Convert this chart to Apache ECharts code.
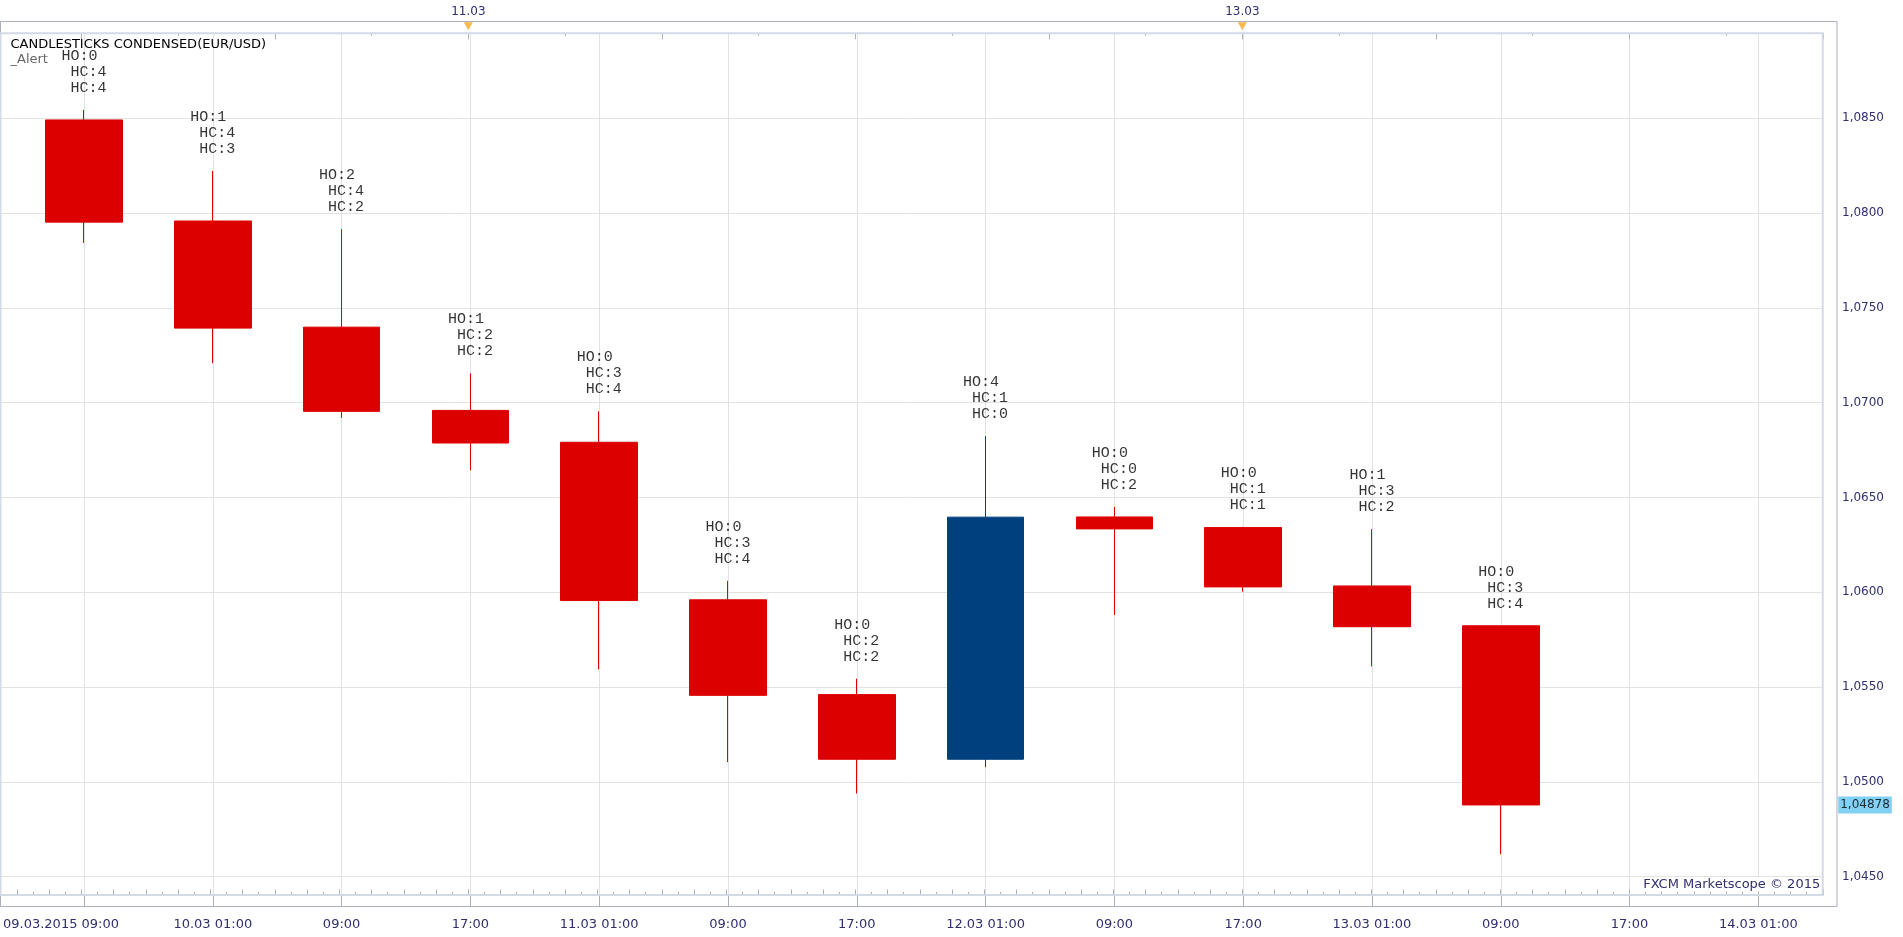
<!DOCTYPE html>
<html><head><meta charset="utf-8">
<script src="https://cdn.jsdelivr.net/npm/echarts@6/dist/echarts.min.js"></script>
<style>html,body{margin:0;padding:0;background:#fff;overflow:hidden}#c{width:1903px;height:937px}</style>
</head><body><div id="c"></div>
<script>
// ---- data ----
const categories = ['09.03.2015 09:00','10.03 01:00','09:00','17:00','11.03 01:00','09:00','17:00','12.03 01:00','09:00','17:00','13.03 01:00','09:00','17:00','14.03 01:00'];
const opens  = [1.08491, 1.07958, 1.07398, 1.06959, 1.06791, 1.05960, 1.05460, 1.05119, 1.06397, 1.06341, 1.06033, 1.05823];
const closes = [1.07952, 1.07393, 1.06954, 1.06787, 1.05956, 1.05456, 1.05119, 1.06396, 1.06334, 1.06028, 1.05818, 1.04878];
const lows   = [1.07842, 1.07208, 1.06919, 1.06643, 1.05593, 1.05104, 1.04938, 1.05077, 1.05880, 1.06003, 1.05609, 1.04618];
const highs  = [1.08544, 1.08222, 1.07915, 1.07155, 1.06954, 1.06060, 1.05544, 1.06823, 1.06450, 1.06345, 1.06333, 1.05823];
const annotations = [
  ['HO:0','HC:4','HC:4'], ['HO:1','HC:4','HC:3'], ['HO:2','HC:4','HC:2'], ['HO:1','HC:2','HC:2'],
  ['HO:0','HC:3','HC:4'], ['HO:0','HC:3','HC:4'], ['HO:0','HC:2','HC:2'], ['HO:4','HC:1','HC:0'],
  ['HO:0','HC:0','HC:2'], ['HO:0','HC:1','HC:1'], ['HO:1','HC:3','HC:2'], ['HO:0','HC:3','HC:4']
];
const topLabelHours = [24, 72];
const topLabels = ['11.03', '13.03'];
const yMin = 1.04403, yMax = 1.08948;

// ---- layout / style ----
const FONT = 'DejaVu Sans, Verdana, sans-serif';
const NAVY = '#2f2f70';
const TICK = '#a9b0bb';
const GRIDC = '#e2e2e2';
const RED = '#dd0000', BLUE = '#00407f';
const W = 1903;
const X0 = 81.35, STEP = 129, HOUR = STEP / 8;
const TOP = 33.3, BOTTOM = 42;
const PLOT_RIGHT = 1822.7;

const fmtPrice = (v, d) => v.toFixed(d).replace('.', ',');
const lastClose = closes[closes.length - 1];

const chart = echarts.init(document.getElementById('c'), null, {renderer: 'canvas'});
chart.setOption({
  animation: false,
  backgroundColor: '#fff',
  title: [
    {text: 'CANDLESTICKS CONDENSED(EUR/USD)', subtext: '_Alert', left: 10.5, top: 38, padding: 0, itemGap: 2,
     textStyle: {fontFamily: FONT, fontSize: 13, fontWeight: 'normal', color: '#000'},
     subtextStyle: {fontFamily: FONT, fontSize: 13, color: '#666'}},
    {text: 'FXCM Marketscope © 2015', right: W - PLOT_RIGHT + 1.5, top: 877.5, padding: [1, 1, 0, 5],
     backgroundColor: '#fff', z: 10,
     textStyle: {fontFamily: FONT, fontSize: 13, fontWeight: 'normal', color: NAVY}}
  ],
  grid: [
    {left: X0, right: W - (X0 + STEP * 13), top: TOP, bottom: BOTTOM},
    {left: 0, right: W - PLOT_RIGHT, top: TOP, bottom: BOTTOM},
    {left: X0 - 4 * HOUR, right: W - (X0 + 108 * HOUR), top: TOP, bottom: BOTTOM},
    {left: X0, right: W - (X0 + 108 * HOUR), top: 21.7, height: 11.6}
  ],
  xAxis: [
    {type: 'category', gridIndex: 0, data: categories, boundaryGap: false,
     axisLine: {show: false},
     axisTick: {show: true, length: 11.7, lineStyle: {color: TICK}},
     axisLabel: {interval: 0, color: NAVY, fontFamily: FONT, fontSize: 13, margin: 23,
       formatter: (v, i) => i === 0 ? '{f|' + v + '}' : v,
       rich: {f: {padding: [0, 46, 0, 0], color: NAVY, fontFamily: FONT, fontSize: 13}}},
     splitLine: {show: true, lineStyle: {color: GRIDC, width: 1}}},
    {type: 'value', gridIndex: 1, min: 0, max: 1, show: false},
    {type: 'value', gridIndex: 2, min: -4, max: 108, interval: 2, position: 'bottom', offset: 11.7,
     axisLine: {show: false}, axisLabel: {show: false}, splitLine: {show: false},
     axisTick: {show: true, inside: true, length: 5.5, lineStyle: {color: TICK}},
     minorTick: {show: true, splitNumber: 2, length: 3, lineStyle: {color: TICK}}},
    {type: 'value', gridIndex: 3, min: 0, max: 108, interval: 12, position: 'top',
     axisLine: {show: false}, splitLine: {show: false},
     axisTick: {show: true, inside: true, length: 6, lineStyle: {color: TICK}},
     minorTick: {show: true, splitNumber: 2, length: 2.5, lineStyle: {color: TICK}},
     axisLabel: {show: true, color: NAVY, fontFamily: FONT, fontSize: 12, margin: 4,
       showMinLabel: true, showMaxLabel: true,
       formatter: v => { const i = topLabelHours.indexOf(v); return i >= 0 ? topLabels[i] : ''; }}}
  ],
  yAxis: [
    {type: 'value', gridIndex: 0, min: yMin, max: yMax, show: false},
    {type: 'value', gridIndex: 1, min: yMin, max: yMax, splitNumber: 9, position: 'right', offset: 1837 - PLOT_RIGHT,
     axisLine: {show: false},
     axisTick: {show: true, inside: true, length: 14.3, lineStyle: {color: TICK}},
     minorTick: {show: true, splitNumber: 10, length: 4.5, lineStyle: {color: TICK}},
     axisLabel: {color: NAVY, fontFamily: FONT, fontSize: 12, margin: 5, showMinLabel: false, showMaxLabel: false,
       hideOverlap: false, formatter: v => fmtPrice(v, 4)},
     splitLine: {show: true, lineStyle: {color: GRIDC, width: 1}}},
    {type: 'value', gridIndex: 2, show: false},
    {type: 'value', gridIndex: 3, min: 0, max: 1, show: false}
  ],
  graphic: [
    {type: 'rect', z: 50, silent: true, shape: {x: 0.5, y: 21.5, width: 1836.5, height: 885},
     style: {fill: 'none', stroke: TICK, lineWidth: 1}},
    {type: 'rect', z: 50, silent: true, shape: {x: 0.5, y: 33.3, width: PLOT_RIGHT - 0.5, height: 937 - BOTTOM - TOP},
     style: {fill: 'none', stroke: '#d3dae5', lineWidth: 2}}
  ],
  series: [
    {type: 'candlestick', xAxisIndex: 0, yAxisIndex: 0, clip: false, barWidth: 77,
     data: opens.map((o, i) => [o, closes[i], lows[i], highs[i]]),
     itemStyle: {color: BLUE, color0: RED, borderColor: BLUE, borderColor0: RED, borderWidth: 1}},
    {type: 'scatter', xAxisIndex: 0, yAxisIndex: 0, silent: true, clip: false, symbolSize: 1,
     itemStyle: {color: 'rgba(0,0,0,0)'},
     data: highs.map((h, i) => [i, h]),
     label: {show: true, position: 'top', distance: 13.5, color: '#000',
       fontFamily: 'Liberation Mono, DejaVu Sans Mono, monospace', fontSize: 15, lineHeight: 16,
       formatter: p => { const a = annotations[p.dataIndex]; return a[0] + ' \n ' + a[1] + '\n ' + a[2]; }}},
    {type: 'scatter', xAxisIndex: 3, yAxisIndex: 3, silent: true, clip: false,
     symbol: 'triangle', symbolRotate: 180, symbolSize: [9, 8], symbolOffset: [0, 4.5],
     itemStyle: {color: '#f5a623'},
     data: topLabelHours.map(h => [h, 1])},
    {type: 'scatter', xAxisIndex: 1, yAxisIndex: 1, silent: true, clip: false, z: 20,
     symbolSize: 1, itemStyle: {color: 'rgba(0,0,0,0)'},
     data: [[1, lastClose]],
     labelLayout: {hideOverlap: false},
     label: {show: true, position: 'right', distance: 15, color: '#000', fontFamily: FONT, fontSize: 12,
       backgroundColor: '#63c6f3', padding: [3, 2, 2, 2], formatter: () => fmtPrice(lastClose, 5)}}
  ]
});
</script>
</body></html>
